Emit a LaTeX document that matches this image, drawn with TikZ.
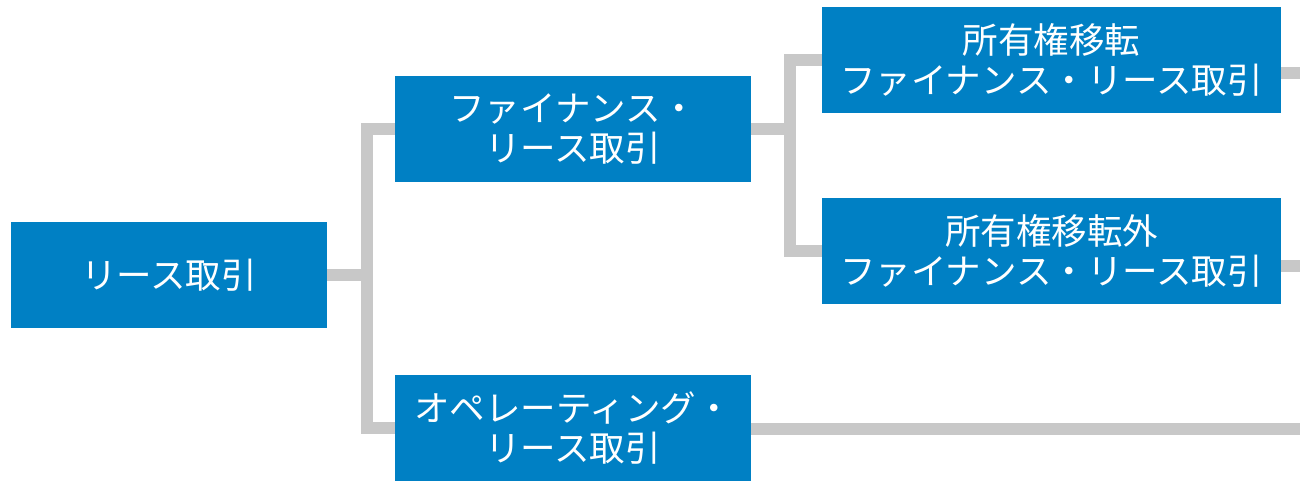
\documentclass[tikz,border=0pt]{standalone}
\usepackage{fontspec}
\setmainfont{Noto Sans CJK JP}
\definecolor{leaseblue}{HTML}{0080C4}
\definecolor{linegray}{HTML}{C8C8C8}

\begin{document}
\begin{tikzpicture}[x=1pt, y=-1pt,
    box/.style={fill=leaseblue, text=white, minimum height=106pt, inner sep=0pt,
      align=center, font=\fontsize{35.5}{40}\selectfont},
    conn/.style={draw=linegray, line width=12pt}]
    \useasboundingbox (0,0) rectangle (1300,499);
    % boxes
    \node[box, minimum width=316pt] (root) at (169,275) {リース取引};
    \node[box, minimum width=356pt] (fin) at (573,129) {ファイナンス・\\リース取引};
    \node[box, minimum width=356pt] (ope) at (573,428) {オペレーティング・\\リース取引};
    \node[box, minimum width=459pt] (tr) at (1051.5,60) {所有権移転\\ファイナンス・リース取引};
    \node[box, minimum width=459pt] (ntr) at (1051.5,251) {所有権移転外\\ファイナンス・リース取引};
    % junctions and open ends
    \coordinate (j1) at (367,275);
    \coordinate (j2) at (790,129);
    \coordinate (o1) at (1300,73);
    \coordinate (o2) at (1300,266);
    \coordinate (o3) at (1300,429);
    % connectors
    \draw[conn] (root.east) -- (j1);
    \draw[conn] (fin.west) -| (j1) |- (ope.west);
    \draw[conn] (fin.east) -- (j2);
    \draw[conn] (tr.west) -| (j2) |- (ntr.west);
    \draw[conn] (o1 -| tr.east) -- (o1);
    \draw[conn] (o2 -| ntr.east) -- (o2);
    \draw[conn] (o3 -| ope.east) -- (o3);
\end{tikzpicture}
\end{document}
